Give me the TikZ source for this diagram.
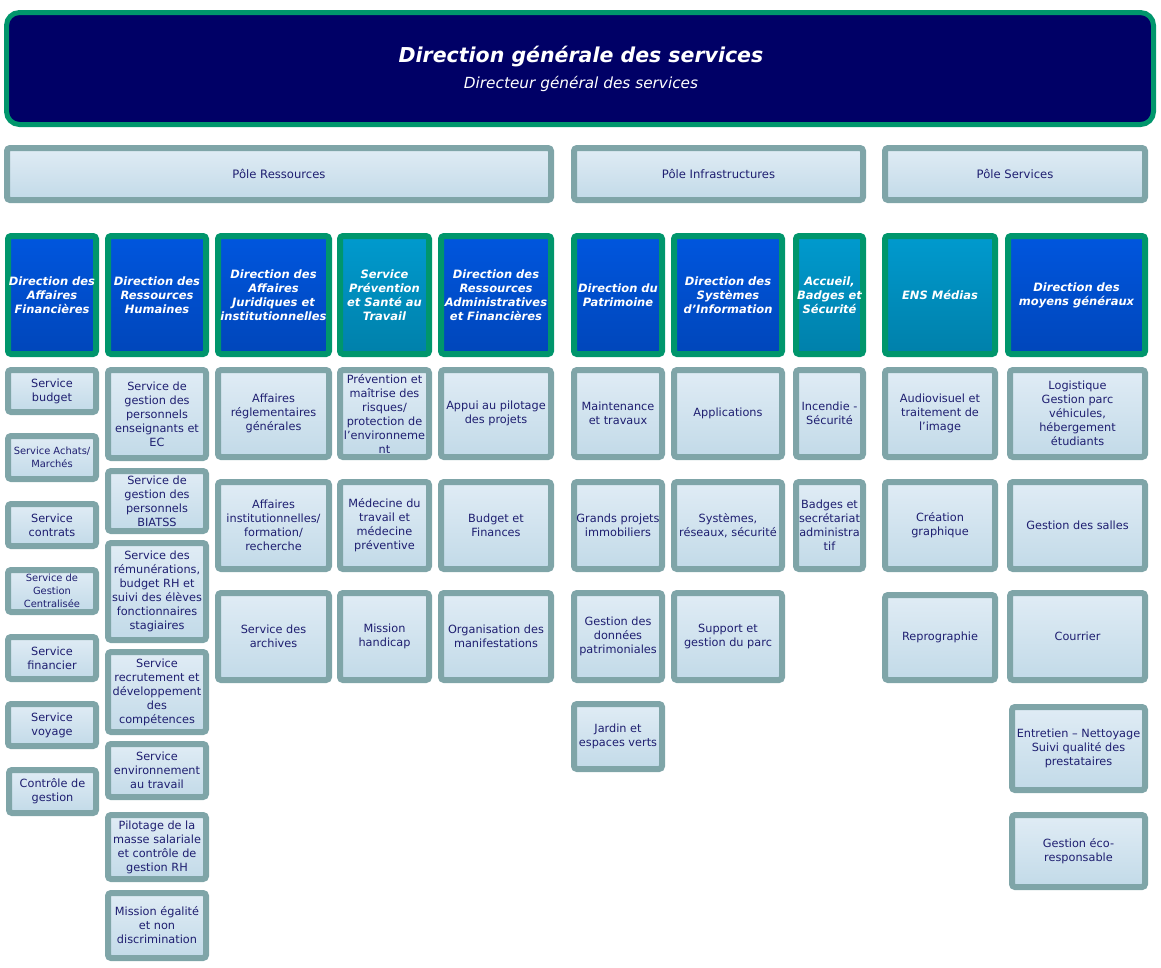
\documentclass[tikz,border=0pt]{standalone}
\usepackage{fontspec}
\setmainfont{DejaVu Sans}
\definecolor{hdrgreen}{RGB}{0,150,108}
\definecolor{hdrnavy}{RGB}{0,0,102}
\definecolor{svcborder}{RGB}{127,165,168}
\definecolor{svctop}{RGB}{224,236,245}
\definecolor{svcbot}{RGB}{194,218,232}
\definecolor{dirtop}{RGB}{0,86,222}
\definecolor{dirbot}{RGB}{0,70,186}
\definecolor{teltop}{RGB}{0,154,206}
\definecolor{telbot}{RGB}{0,128,170}
\definecolor{txt}{RGB}{30,30,112}
\newcommand\mkbox[7]{\node[#1,minimum width={#5-#3-6},minimum height={#6-#4-6}] (#2) at ({(#3+#5)/2},{-(#4+#6)/2}) {#7};}
\begin{document}
\begin{tikzpicture}[x=1pt,y=1pt,
  svc/.style={draw=svcborder, line width=6pt, rounded corners=3pt, top color=svctop, bottom color=svcbot, inner sep=0pt, align=center, text=txt, font=\fontsize{11.3}{14}\selectfont},
  svcsmall/.style={svc, font=\fontsize{9.9}{13}\selectfont},
  pole/.style={svc, font=\fontsize{11.6}{13}\selectfont},
  dirbox/.style={draw=hdrgreen, line width=6pt, rounded corners=3pt, top color=dirtop, bottom color=dirbot, inner sep=0pt, align=center, text=white, font=\fontsize{11.5}{14}\selectfont\bfseries\itshape},
  telbox/.style={dirbox, top color=teltop, bottom color=telbot}]
\useasboundingbox (0,0) rectangle (1161,-967);
% header
\node[draw=hdrgreen, line width=5pt, fill=hdrnavy, rounded corners=13pt, minimum width=1147, minimum height=112] (hdr) at (580,-68.5) {};
\node[text=white, font=\fontsize{20.5}{22}\selectfont\bfseries\itshape] (title) at (581,-57) {Direction générale des services};
\node[text=white, font=\fontsize{15.3}{17}\selectfont\itshape] (subtitle) at (581,-84) {Directeur général des services};
% poles
\mkbox{pole}{pres}{4}{145}{554}{203}{Pôle Ressources}
\mkbox{pole}{pinf}{571}{145}{866}{203}{Pôle Infrastructures}
\mkbox{pole}{pser}{882}{145}{1148}{203}{Pôle Services}
% directions
\mkbox{dirbox}{daf}{5}{233}{99}{357}{Direction des\\Affaires\\Financières}
\mkbox{dirbox}{drh}{105}{233}{209}{357}{Direction des\\Ressources\\Humaines}
\mkbox{dirbox}{daji}{215}{233}{332}{357}{Direction des\\Affaires\\Juridiques et\\institutionnelles}
\mkbox{telbox}{spst}{337}{233}{432}{357}{Service\\Prévention\\et Santé au\\Travail}
\mkbox{dirbox}{draf}{438}{233}{554}{357}{Direction des\\Ressources\\Administratives\\et Financières}
\mkbox{dirbox}{dpat}{571}{233}{665}{357}{Direction du\\Patrimoine}
\mkbox{dirbox}{dsi}{671}{233}{785}{357}{Direction des\\Systèmes\\d’Information}
\mkbox{telbox}{abs}{793}{233}{866}{357}{Accueil,\\Badges et\\Sécurité}
\mkbox{telbox}{ensm}{882}{233}{998}{357}{ENS Médias}
\mkbox{dirbox}{dmg}{1005}{233}{1148}{357}{Direction des\\moyens généraux}
% column 1
\mkbox{svc}{c1a}{5}{367}{99}{415}{Service\\budget}
\mkbox{svcsmall}{c1b}{5}{433}{99}{482}{Service Achats/\\Marchés}
\mkbox{svc}{c1c}{5}{501}{99}{549}{Service\\contrats}
\mkbox{svcsmall}{c1d}{5}{567}{99}{615}{Service de\\Gestion\\Centralisée}
\mkbox{svc}{c1e}{5}{634}{99}{682}{Service\\financier}
\mkbox{svc}{c1f}{5}{701}{99}{749}{Service\\voyage}
\mkbox{svc}{c1g}{6}{767}{99}{816}{Contrôle de\\gestion}
% column 2
\mkbox{svc}{c2a}{105}{367}{209}{461}{Service de\\gestion des\\personnels\\enseignants et\\EC}
\mkbox{svc}{c2b}{105}{468}{209}{534}{Service de\\gestion des\\personnels\\BIATSS}
\mkbox{svc}{c2c}{105}{540}{209}{643}{Service des\\rémunérations,\\budget RH et\\suivi des élèves\\fonctionnaires\\stagiaires}
\mkbox{svc}{c2d}{105}{649}{209}{735}{Service\\recrutement et\\développement\\des\\compétences}
\mkbox{svc}{c2e}{105}{741}{209}{800}{Service\\environnement\\au travail}
\mkbox{svc}{c2f}{105}{812}{209}{882}{Pilotage de la\\masse salariale\\et contrôle de\\gestion RH}
\mkbox{svc}{c2g}{105}{890}{209}{961}{Mission égalité\\et non\\discrimination}
% column 3
\mkbox{svc}{c3a}{215}{367}{332}{460}{Affaires\\réglementaires\\générales}
\mkbox{svc}{c3b}{215}{479}{332}{572}{Affaires\\institutionnelles/\\formation/\\recherche}
\mkbox{svc}{c3c}{215}{590}{332}{683}{Service des\\archives}
% column 4
\mkbox{svc}{c4a}{337}{367}{432}{460}{Prévention et\\maîtrise des\\risques/\\protection de\\l’environneme\\nt}
\mkbox{svc}{c4b}{337}{479}{432}{572}{Médecine du\\travail et\\médecine\\préventive}
\mkbox{svc}{c4c}{337}{590}{432}{683}{Mission\\handicap}
% column 5
\mkbox{svc}{c5a}{438}{367}{554}{460}{Appui au pilotage\\des projets}
\mkbox{svc}{c5b}{438}{479}{554}{572}{Budget et\\Finances}
\mkbox{svc}{c5c}{438}{590}{554}{683}{Organisation des\\manifestations}
% column 6
\mkbox{svc}{c6a}{571}{367}{665}{460}{Maintenance\\et travaux}
\mkbox{svc}{c6b}{571}{479}{665}{572}{Grands projets\\immobiliers}
\mkbox{svc}{c6c}{571}{590}{665}{683}{Gestion des\\données\\patrimoniales}
\mkbox{svc}{c6d}{571}{701}{665}{772}{Jardin et\\espaces verts}
% column 7
\mkbox{svc}{c7a}{671}{367}{785}{460}{Applications}
\mkbox{svc}{c7b}{671}{479}{785}{572}{Systèmes,\\réseaux, sécurité}
\mkbox{svc}{c7c}{671}{590}{785}{683}{Support et\\gestion du parc}
% column 8
\mkbox{svc}{c8a}{793}{367}{866}{460}{Incendie -\\Sécurité}
\mkbox{svc}{c8b}{793}{479}{866}{572}{Badges et\\secrétariat\\administra\\tif}
% column 9
\mkbox{svc}{c9a}{882}{367}{998}{460}{Audiovisuel et\\traitement de\\l’image}
\mkbox{svc}{c9b}{882}{479}{998}{572}{Création\\graphique}
\mkbox{svc}{c9c}{882}{592}{998}{683}{Reprographie}
% column 10
\mkbox{svc}{c10a}{1007}{367}{1148}{460}{Logistique\\Gestion parc\\véhicules,\\hébergement\\étudiants}
\mkbox{svc}{c10b}{1007}{479}{1148}{572}{Gestion des salles}
\mkbox{svc}{c10c}{1007}{590}{1148}{683}{Courrier}
\mkbox{svc}{c10d}{1009}{704}{1148}{793}{Entretien – Nettoyage\\Suivi qualité des\\prestataires}
\mkbox{svc}{c10e}{1009}{812}{1148}{890}{Gestion éco-\\responsable}
\end{tikzpicture}
\end{document}
